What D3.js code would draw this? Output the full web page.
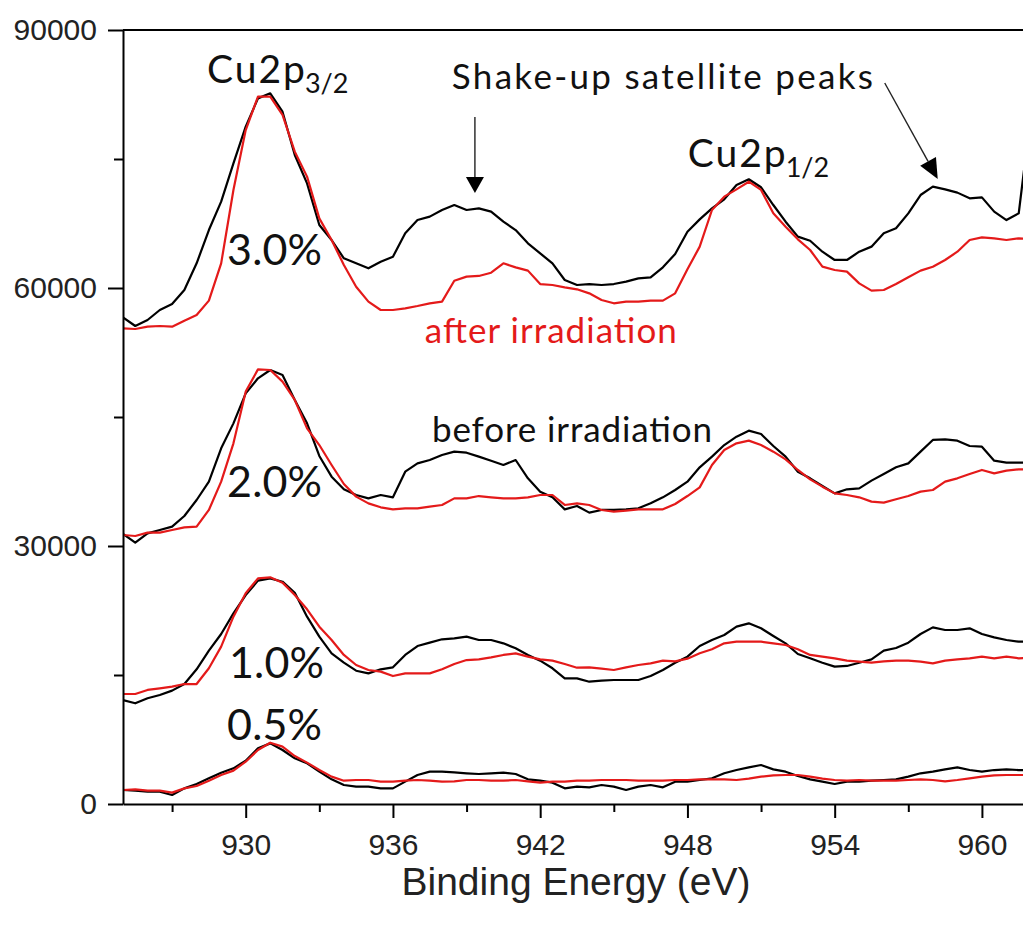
<!DOCTYPE html>
<html>
<head>
<meta charset="utf-8">
<script src="https://cdn.jsdelivr.net/npm/d3@7"></script>
<style>
    body { margin: 0; background: #fff; }
</style>
</head>
<body>
<div id="chart"></div>
<script>
// binding energy grid (eV), shared by every spectrum
const energy = [925, 925.5, 926, 926.5, 927, 927.5, 928, 928.5, 929, 929.5,
    930, 930.5, 931, 931.5, 932, 932.5, 933, 933.5, 934, 934.5,
    935, 935.5, 936, 936.5, 937, 937.5, 938, 938.5, 939, 939.5,
    940, 940.5, 941, 941.5, 942, 942.5, 943, 943.5, 944, 944.5,
    945, 945.5, 946, 946.5, 947, 947.5, 948, 948.5, 949, 949.5,
    950, 950.5, 951, 951.5, 952, 952.5, 953, 953.5, 954, 954.5,
    955, 955.5, 956, 956.5, 957, 957.5, 958, 958.5, 959, 959.5,
    960, 960.5, 961, 961.5, 962];

// counts, before irradiation (black) and after irradiation (red)
const before30 = [56590, 55580, 56280, 57440, 58140, 59770, 62870, 66740, 70040, 74500,
    78760, 82050, 82640, 80500, 75470, 72170, 67325, 65580, 63450, 62870,
    62290, 63060, 63640, 66360, 67900, 68300, 69070, 69650, 69070, 69260,
    68880, 67710, 66740, 65190, 64030, 62870, 60930, 60350, 60460, 60350,
    60460, 60740, 61120, 61240, 62400, 63950, 66550, 67980, 69260, 70310,
    71980, 72640, 71710, 69650, 67710, 65970, 65500, 64220, 63260, 63260,
    64220, 64810, 66360, 66940, 68680, 70810, 71780, 71470, 71090, 70430,
    70540, 68880, 67900, 68680, 80350];
const after30 = [55310, 55230, 55500, 55580, 55500, 56200, 56860, 58530, 62870, 71400,
    78370, 82250, 82250, 80120, 75850, 72950, 68100, 65580, 62670, 60150,
    58410, 57440, 57440, 57640, 57910, 58220, 58410, 60850, 61320, 61400,
    61780, 62870, 62400, 62020, 60460, 60350, 60080, 59850, 59380, 58600,
    58220, 58410, 58410, 58530, 58530, 59380, 62170, 64810, 69070, 70620,
    71470, 72360, 71400, 68680, 67130, 65660, 64420, 62480, 62090, 61900,
    60540, 59690, 59770, 60460, 61240, 62020, 62480, 63260, 64220, 65580,
    65890, 65780, 65580, 65780, 65700];
const before20 = [31400, 30390, 31470, 31860, 32250, 33490, 35350, 37480, 41360, 44260,
    47750, 49500, 50465, 49880, 46980, 44260, 40470, 38060, 36590, 35930,
    35540, 35930, 35660, 38640, 39610, 40000, 40580, 40970, 40850, 40390,
    39920, 39420, 40000, 37870, 36320, 35660, 34260, 34650, 33880, 34190,
    34190, 34260, 34380, 34960, 35660, 36510, 37480, 39150, 40390, 41740,
    42710, 43410, 43020, 41630, 40390, 38640, 37870, 36980, 36120, 36590,
    36700, 37600, 38370, 39150, 39610, 40970, 42330, 42400, 42250, 41630,
    41550, 39920, 39690, 39690, 39700];
const after20 = [31280, 31160, 31550, 31550, 31860, 32170, 32250, 34190, 37480, 41940,
    47950, 50540, 50465, 49110, 46980, 43680, 41740, 39420, 37210, 35740,
    34960, 34500, 34260, 34380, 34380, 34570, 34770, 35540, 35540, 35810,
    35660, 35540, 35540, 35660, 35930, 35930, 34770, 34960, 34770, 34190,
    33990, 34110, 34260, 34260, 34260, 34880, 35810, 36820, 39420, 41160,
    41940, 42250, 41740, 40970, 40080, 38840, 37750, 36900, 36120, 35930,
    35660, 35160, 35040, 35430, 35810, 36320, 36510, 37480, 37870, 38370,
    38840, 38450, 38760, 38910, 38900];
const before10 = [12090, 11710, 12290, 12670, 13180, 13950, 15660, 17830, 19770, 22170,
    24300, 25970, 26240, 25850, 24570, 21780, 19460, 17520, 16435, 15500,
    15190, 15660, 15890, 17330, 18370, 18760, 19150, 19260, 19460, 19070,
    19070, 18680, 18100, 17330, 16670, 15780, 14610, 14610, 14220, 14340,
    14420, 14420, 14420, 14880, 15580, 16430, 17130, 18370, 19070, 19650,
    20620, 21010, 20430, 19540, 18680, 17440, 16940, 16430, 15970, 16050,
    16430, 16820, 17830, 18140, 18760, 19770, 20540, 20230, 20230, 20430,
    19770, 19380, 19070, 18880, 18850];
const after10 = [12790, 12790, 13260, 13450, 13640, 13950, 13950, 15780, 18300, 21780,
    24500, 26240, 26360, 25740, 24300, 22640, 20620, 19070, 17330, 16160,
    15580, 15390, 14880, 15190, 15190, 15190, 15660, 16280, 16740, 16820,
    17050, 17330, 17520, 17130, 16820, 16670, 16280, 15850, 15890, 15740,
    15580, 15890, 16160, 16360, 16670, 16590, 16900, 17520, 17990, 18680,
    18880, 18880, 18880, 18680, 18490, 17990, 17330, 17130, 16940, 16670,
    16550, 16430, 16590, 16670, 16670, 16550, 16360, 16670, 16820, 16940,
    17130, 16940, 17130, 16940, 17000];
const before05 = [1630, 1550, 1430, 1430, 1045, 1820, 2330, 2985, 3640, 4150,
    5040, 6470, 7050, 6280, 5310, 4730, 3760, 2870, 2210, 2020,
    2020, 1820, 1820, 2600, 3370, 3760, 3760, 3680, 3570, 3490,
    3570, 3640, 3490, 2870, 2710, 2480, 1820, 2020, 1940, 2210,
    2020, 1630, 2020, 2210, 1940, 2600, 2600, 2790, 2990, 3570,
    3950, 4260, 4530, 4030, 3760, 3260, 2870, 2600, 2330, 2600,
    2600, 2710, 2790, 2870, 3180, 3570, 3760, 4030, 4260, 3950,
    3760, 3950, 4030, 3950, 3950];
const after05 = [1630, 1705, 1550, 1550, 1320, 1820, 2090, 2710, 3370, 3880,
    4920, 6280, 7130, 6670, 5580, 4810, 3950, 3180, 2710, 2790,
    2790, 2600, 2600, 2710, 2790, 2710, 2600, 2640, 2790, 2790,
    2710, 2710, 2790, 2640, 2480, 2600, 2600, 2710, 2710, 2790,
    2790, 2790, 2710, 2710, 2710, 2790, 2790, 2870, 2870, 2870,
    2790, 2950, 3180, 3330, 3370, 3370, 3180, 2950, 2790, 2710,
    2790, 2710, 2710, 2710, 2790, 2870, 2790, 2640, 2790, 2990,
    3180, 3330, 3370, 3370, 3370];

// axis ticks
const xMajorTicks = [930, 936, 942, 948, 954, 960];
const xMinorTicks = [927, 933, 939, 945, 951, 957];
const yMajorTicks = [0, 30000, 60000, 90000];
const yMinorTicks = [15000, 45000, 75000];

// text labels on the plot
const concLabels = [
    {text: "3.0%", x: 929.24, y: 62680},
    {text: "2.0%", x: 929.24, y: 35700},
    {text: "1.0%", x: 929.32, y: 14650},
    {text: "0.5%", x: 929.24, y: 7440}
];

const width = 1023, height = 926;
const margin = {top: 30, left: 123, bottom: 804};

const svg = d3.select("#chart")
    .append("svg")
    .attr("width", width)
    .attr("height", height)
    .style("font-family", "'Liberation Sans', Arial, sans-serif");

svg.append("rect")
    .attr("width", width)
    .attr("height", height)
    .attr("fill", "#fff");

const xScale = d3.scaleLinear()
    .domain([925, 962])
    .range([margin.left, 1031]);

const yScale = d3.scaleLinear()
    .domain([0, 90000])
    .range([margin.bottom, margin.top]);

svg.append("clipPath")
    .attr("id", "plot-clip")
    .append("rect")
    .attr("x", margin.left)
    .attr("y", margin.top)
    .attr("width", xScale(962) - margin.left)
    .attr("height", margin.bottom - margin.top);

// spectra
const spectra = [
    {values: before30, colour: "#000"}, {values: after30, colour: "#e41a1a"},
    {values: before20, colour: "#000"}, {values: after20, colour: "#e41a1a"},
    {values: before10, colour: "#000"}, {values: after10, colour: "#e41a1a"},
    {values: before05, colour: "#000"}, {values: after05, colour: "#e41a1a"}
];
// black lines first so the red ones sit on top
spectra.sort((a, b) => (a.colour === "#000" ? 0 : 1) - (b.colour === "#000" ? 0 : 1));

const line = d3.line()
    .x((d, i) => xScale(energy[i]))
    .y(d => yScale(d));

svg.append("g")
    .attr("clip-path", "url(#plot-clip)")
    .selectAll("path")
    .data(spectra)
    .join("path")
    .attr("d", d => line(d.values))
    .attr("fill", "none")
    .attr("stroke", d => d.colour)
    .attr("stroke-width", 2.2)
    .attr("stroke-linejoin", "round");

// top frame line
svg.append("line")
    .attr("x1", margin.left)
    .attr("x2", xScale(962))
    .attr("y1", yScale(90000))
    .attr("y2", yScale(90000))
    .attr("stroke", "#000")
    .attr("stroke-width", 2);

// y axis setup
svg.append("g")
    .attr("transform", `translate(${margin.left}, 0)`)
    .call(d3.axisLeft(yScale)
        .tickValues(yMajorTicks)
        .tickSize(15)
        .tickSizeOuter(0)
        .tickPadding(11)
        .tickFormat(d3.format("d")));
svg.append("g")
    .attr("transform", `translate(${margin.left}, 0)`)
    .call(d3.axisLeft(yScale)
        .tickValues(yMinorTicks)
        .tickSize(9)
        .tickSizeOuter(0)
        .tickFormat(""))
    .select(".domain").remove();

// x axis setup
svg.append("g")
    .attr("transform", `translate(0, ${margin.bottom})`)
    .call(d3.axisBottom(xScale)
        .tickValues(xMajorTicks)
        .tickSize(14)
        .tickSizeOuter(0)
        .tickPadding(16)
        .tickFormat(d3.format("d")));
svg.append("g")
    .attr("transform", `translate(0, ${margin.bottom})`)
    .call(d3.axisBottom(xScale)
        .tickValues(xMinorTicks)
        .tickSize(8)
        .tickSizeOuter(0)
        .tickFormat(""))
    .select(".domain").remove();

svg.selectAll(".domain, .tick line")
    .attr("stroke", "#000")
    .attr("stroke-width", 2);
svg.selectAll(".tick text")
    .attr("fill", "#222")
    .style("font-size", "30px")
    .style("font-family", "'Liberation Sans', Arial, sans-serif");

svg.append("text")
    .attr("x", (margin.left + width) / 2 + 3)
    .attr("y", 895)
    .attr("text-anchor", "middle")
    .attr("fill", "#222")
    .style("font-size", "39px")
    .text("Binding Energy (eV)");

// annotations
const note = svg.append("g")
    .style("font-family", "Lato, 'Open Sans', sans-serif")
    .attr("fill", "#111");

note.selectAll(".conc")
    .data(concLabels)
    .join("text")
    .attr("class", "conc")
    .attr("x", d => xScale(d.x))
    .attr("y", d => yScale(d.y))
    .attr("textLength", 95)
    .attr("lengthAdjust", "spacing")
    .style("font-size", "43px")
    .text(d => d.text);

function peakLabel(x, y, sub) {
    const t = note.append("text")
        .attr("x", xScale(x))
        .attr("y", yScale(y))
        .style("font-size", "39px");
    t.append("tspan")
        .attr("textLength", 98)
        .attr("lengthAdjust", "spacing")
        .text("Cu2p");
    t.append("tspan")
        .attr("dy", 10)
        .attr("dx", -2)
        .style("font-size", "27px")
        .text(sub);
}
peakLabel(928.42, 83840, "3/2");
peakLabel(948.01, 74070, "1/2");

note.append("text")
    .attr("x", xScale(938.4))
    .attr("y", yScale(83140))
    .attr("textLength", 421)
    .attr("lengthAdjust", "spacing")
    .style("font-size", "35px")
    .text("Shake-up satellite peaks");

note.append("text")
    .attr("x", xScale(937.3))
    .attr("y", yScale(53600))
    .attr("textLength", 252)
    .attr("lengthAdjust", "spacing")
    .attr("fill", "#e41a1a")
    .style("font-size", "35px")
    .text("after irradiation");

note.append("text")
    .attr("x", xScale(937.59))
    .attr("y", yScale(42090))
    .attr("textLength", 280)
    .attr("lengthAdjust", "spacing")
    .style("font-size", "35px")
    .text("before irradiation");

// arrows pointing at the satellite peaks
function arrow(x1, y1, x2, y2, headLen, headHalf) {
    const px1 = xScale(x1), py1 = yScale(y1), px2 = xScale(x2), py2 = yScale(y2);
    const ang = Math.atan2(py2 - py1, px2 - px1);
    const bx = px2 - headLen * Math.cos(ang), by = py2 - headLen * Math.sin(ang);
    note.append("line")
        .attr("x1", px1).attr("y1", py1)
        .attr("x2", bx).attr("y2", by)
        .attr("stroke", "#222")
        .attr("stroke-width", 1.4);
    note.append("path")
        .attr("d", d3.line()([
            [px2, py2],
            [bx + headHalf * Math.sin(ang), by - headHalf * Math.cos(ang)],
            [bx - headHalf * Math.sin(ang), by + headHalf * Math.cos(ang)]
        ]) + "Z")
        .attr("fill", "#000");
}
arrow(939.34, 79880, 939.34, 71050, 16, 9);
arrow(956.04, 83840, 958.2, 72680, 20, 9);
</script>
</body>
</html>
